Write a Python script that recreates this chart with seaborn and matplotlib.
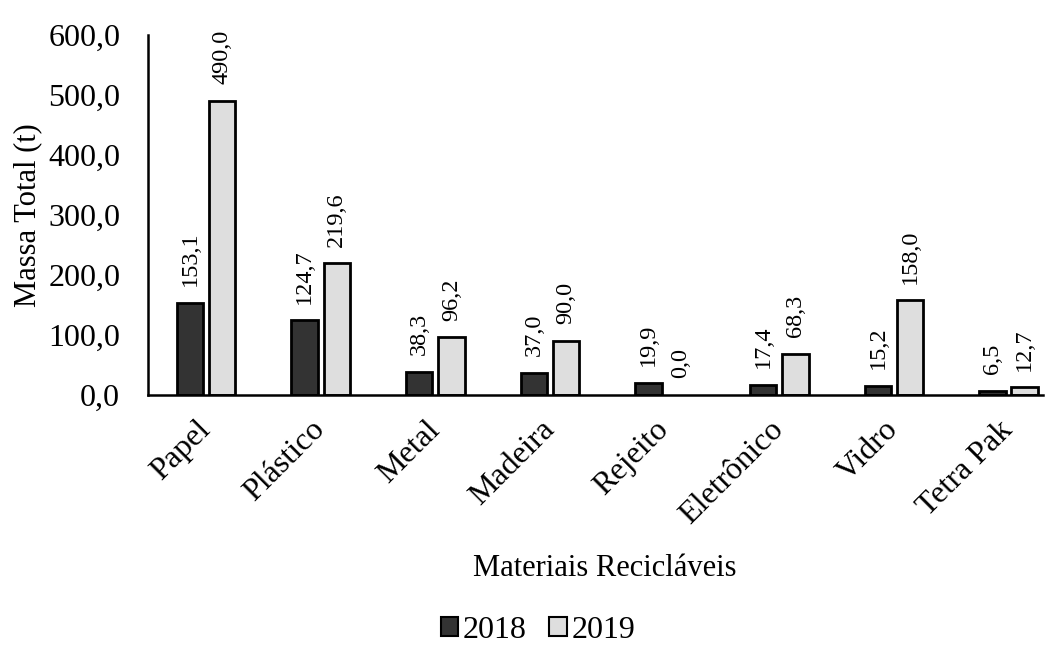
import pandas as pd
import numpy as np
import matplotlib.pyplot as plt
import seaborn as sns
from matplotlib.patches import Patch

materiais = ['Papel', 'Plástico', 'Metal', 'Madeira', 'Rejeito',
             'Eletrônico', 'Vidro', 'Tetra Pak']
massa_2018 = [153.1, 124.7, 38.3, 37.0, 19.9, 17.4, 15.2, 6.5]
massa_2019 = [490.0, 219.6, 96.2, 90.0, 0.0, 68.3, 158.0, 12.7]
anos = ['2018', '2019']

df = pd.DataFrame({
    'Material': materiais * 2,
    'Ano': ['2018'] * len(materiais) + ['2019'] * len(materiais),
    'Massa': massa_2018 + massa_2019,
})

sns.set_style('white')
plt.rcParams['font.family'] = ['Liberation Serif', 'DejaVu Serif']
plt.rcParams['text.color'] = 'black'
plt.rcParams['xtick.color'] = 'black'
plt.rcParams['ytick.color'] = 'black'
plt.rcParams['axes.labelcolor'] = 'black'

cores = ['#333333', '#dedede']

fig = plt.figure(figsize=(10.53, 6.49), dpi=100)
ax = fig.add_axes([148 / 1053, 1 - 395 / 649, 895 / 1053, 360 / 649])

sns.barplot(data=df, x='Material', y='Massa', hue='Ano', palette=cores,
            width=0.56, gap=0.18, edgecolor='black', linewidth=2,
            legend=False, ax=ax)

for cont in ax.containers:
    # barras de valor zero ficam invisiveis (como no Excel)
    for bar, v in zip(cont, cont.datavalues):
        if v == 0:
            bar.set_linewidth(0)
    ax.bar_label(cont, labels=[f'{v:.1f}'.replace('.', ',') for v in cont.datavalues],
                 rotation=90, padding=12, fontsize=17.5)

ax.set_ylim(0, 600)
ax.set_xlim(-0.506, 7.30)
ax.set_yticks(np.arange(0, 601, 100))
ax.set_yticklabels([f'{v:.1f}'.replace('.', ',') for v in np.arange(0, 601, 100)], fontsize=23)
ax.set_xticks(range(len(materiais)))
ax.set_xticklabels(materiais, rotation=45, ha='right', va='center',
                   rotation_mode='anchor', fontsize=23)
ax.tick_params(axis='both', length=0)
ax.tick_params(axis='y', pad=20)
ax.tick_params(axis='x', pad=22)
ax.set_xlabel('')
ax.set_ylabel('Massa Total (t)', fontsize=22, labelpad=4)
for s in ['top', 'right']:
    ax.spines[s].set_visible(False)
for s in ['left', 'bottom']:
    ax.spines[s].set_color('black')
    ax.spines[s].set_linewidth(1.8)

fig.text(605 / 1053, 1 - 568 / 649, 'Materiais Recicláveis', ha='center', va='center', fontsize=22)

handles = [Patch(facecolor=c, edgecolor='black', linewidth=1.5) for c in cores]
fig.legend(handles, anos, loc='center', bbox_to_anchor=(538 / 1053, 1 - 630 / 649),
           ncol=2, frameon=False, fontsize=23, handlelength=0.55, handleheight=0.55,
           handletextpad=0.15, columnspacing=0.7)

fig.savefig('out.png', dpi=100)
